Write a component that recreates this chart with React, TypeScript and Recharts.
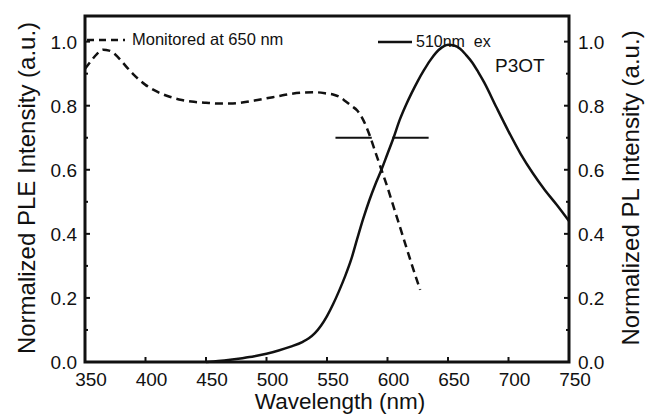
import { LineChart, Line, XAxis, YAxis, ReferenceArea, Label } from 'recharts';

// PLE spectrum (dashed), monitored at 650 nm
const pleWl = [350, 355, 360, 365, 370, 375, 380, 385, 390, 400, 410, 420, 430, 440, 450, 460, 470, 480, 490, 500, 510, 520, 530, 540, 550, 555, 560, 565, 570, 575, 580, 585, 590, 595, 600, 605, 610, 615, 620, 627];
const pleVal = [0.915, 0.94, 0.962, 0.975, 0.972, 0.96, 0.94, 0.918, 0.898, 0.865, 0.843, 0.828, 0.818, 0.812, 0.809, 0.807, 0.807, 0.81, 0.816, 0.823, 0.83, 0.837, 0.841, 0.842, 0.838, 0.835, 0.828, 0.815, 0.8, 0.785, 0.755, 0.71, 0.655, 0.6, 0.545, 0.485, 0.425, 0.365, 0.305, 0.225];

// PL spectrum (solid), 510 nm excitation
const plWl = [450, 460, 470, 480, 490, 500, 510, 520, 530, 535, 540, 545, 550, 555, 560, 565, 570, 575, 580, 585, 590, 595, 600, 605, 610, 615, 620, 625, 630, 635, 640, 645, 650, 655, 660, 665, 670, 675, 680, 690, 700, 710, 720, 730, 740, 750];
const plVal = [0, 0.003, 0.007, 0.012, 0.018, 0.026, 0.036, 0.048, 0.063, 0.074, 0.09, 0.113, 0.143, 0.18, 0.222, 0.268, 0.32, 0.385, 0.448, 0.505, 0.555, 0.6, 0.65, 0.7, 0.755, 0.8, 0.84, 0.877, 0.91, 0.94, 0.965, 0.982, 0.99, 0.988, 0.978, 0.958, 0.935, 0.905, 0.872, 0.795, 0.72, 0.65, 0.59, 0.537, 0.49, 0.44];

// short horizontal markers
const markLevel = 0.7;
const markLeftWl = [557, 587];
const markRightWl = [604, 634];

const xTicks = [350, 400, 450, 500, 550, 600, 650, 700, 750];
const yTicks = [0, 0.1, 0.2, 0.3, 0.4, 0.5, 0.6, 0.7, 0.8, 0.9, 1.0];

const ple = pleWl.map((wl, i) => ({ wl, v: pleVal[i] }));
const pl = plWl.map((wl, i) => ({ wl, v: plVal[i] }));
const markLeft = markLeftWl.map((wl) => ({ wl, v: markLevel }));
const markRight = markRightWl.map((wl) => ({ wl, v: markLevel }));

const INK = '#111';
const FONT = '"Liberation Sans", Arial, sans-serif';

const isMajor = (v: number) => Math.round(v * 10) % 2 === 0;

function LeftTick({ x, y, payload }: any) {
  const v = payload.value;
  return (
    <g>
      <line x1={x} x2={x + (isMajor(v) ? 5 : 3)} y1={y} y2={y} stroke={INK} strokeWidth={2} />
      {isMajor(v) && (
        <text x={x - 8} y={y} dy={7} textAnchor="end" fontSize={19} fontFamily={FONT} fill={INK}>
          {v.toFixed(1)}
        </text>
      )}
    </g>
  );
}

function RightTick({ x, y, payload }: any) {
  const v = payload.value;
  return (
    <g>
      <line x1={x} x2={x - (isMajor(v) ? 5 : 3)} y1={y} y2={y} stroke={INK} strokeWidth={2} />
      {isMajor(v) && (
        <text x={x + 9} y={y} dy={7} textAnchor="start" fontSize={19} fontFamily={FONT} fill={INK}>
          {v.toFixed(1)}
        </text>
      )}
    </g>
  );
}

function BottomTick({ x, y, payload }: any) {
  return (
    <g>
      <line x1={x} x2={x} y1={y} y2={y - 5} stroke={INK} strokeWidth={2} />
      <text x={x + 6} y={y + 24} textAnchor="middle" fontSize={19} fontFamily={FONT} fill={INK}>
        {payload.value}
      </text>
    </g>
  );
}

function Annotations() {
  return (
    <g fontFamily={FONT} fill={INK}>
      <text x={340} y={409} textAnchor="middle" fontSize={22.5}>Wavelength (nm)</text>
      <text transform="translate(35,188) rotate(-90)" textAnchor="middle" fontSize={24}>
        Normalized PLE Intensity (a.u.)
      </text>
      <text transform="translate(639,188) rotate(-90)" textAnchor="middle" fontSize={24}>
        Normalized PL Intensity (a.u.)
      </text>
      <line x1={87} x2={125} y1={40} y2={40} stroke={INK} strokeWidth={2.5} strokeDasharray="7 5" />
      <text x={132} y={45} fontSize={16.5}>Monitored at 650 nm</text>
      <line x1={378} x2={412} y1={42} y2={42} stroke={INK} strokeWidth={2.5} />
      <text x={416} y={47} fontSize={16} style={{ whiteSpace: 'pre' }}>510nm  ex</text>
      <text x={495} y={72} fontSize={19}>P3OT</text>
    </g>
  );
}

export default function App() {
  return (
    <div style={{ position: 'absolute', left: 0, top: 0, background: '#fff' }}>
      <LineChart width={646} height={414} margin={{ top: 16, right: 0, bottom: 0, left: 0 }}>
        <XAxis
          dataKey="wl"
          type="number"
          domain={[350, 750]}
          ticks={xTicks}
          interval={0}
          height={52}
          tickSize={0}
          tickMargin={0}
          axisLine={false}
          tick={BottomTick}
        >
          <Label content={() => <Annotations />} />
        </XAxis>
        <YAxis
          yAxisId="left"
          type="number"
          domain={[0, 1.08]}
          ticks={yTicks}
          interval={0}
          width={85}
          tickSize={0}
          tickMargin={0}
          axisLine={false}
          tick={LeftTick}
        />
        <YAxis
          yAxisId="right"
          orientation="right"
          type="number"
          domain={[0, 1.08]}
          ticks={yTicks}
          interval={0}
          width={77}
          tickSize={0}
          tickMargin={0}
          axisLine={false}
          tick={RightTick}
        />
        <ReferenceArea
          yAxisId="left"
          x1={350}
          x2={750}
          y1={0}
          y2={1.08}
          fill="none"
          fillOpacity={0}
          stroke={INK}
          strokeWidth={3}
        />
        <Line
          yAxisId="left"
          data={ple}
          dataKey="v"
          type="monotone"
          stroke={INK}
          strokeWidth={2.5}
          strokeDasharray="8 5"
          dot={false}
          isAnimationActive={false}
        />
        <Line
          yAxisId="right"
          data={pl}
          dataKey="v"
          type="monotone"
          stroke={INK}
          strokeWidth={2.5}
          dot={false}
          isAnimationActive={false}
        />
        <Line
          yAxisId="right"
          data={markLeft}
          dataKey="v"
          stroke={INK}
          strokeWidth={2.2}
          dot={false}
          isAnimationActive={false}
        />
        <Line
          yAxisId="right"
          data={markRight}
          dataKey="v"
          stroke={INK}
          strokeWidth={2.2}
          dot={false}
          isAnimationActive={false}
        />
      </LineChart>
    </div>
  );
}
